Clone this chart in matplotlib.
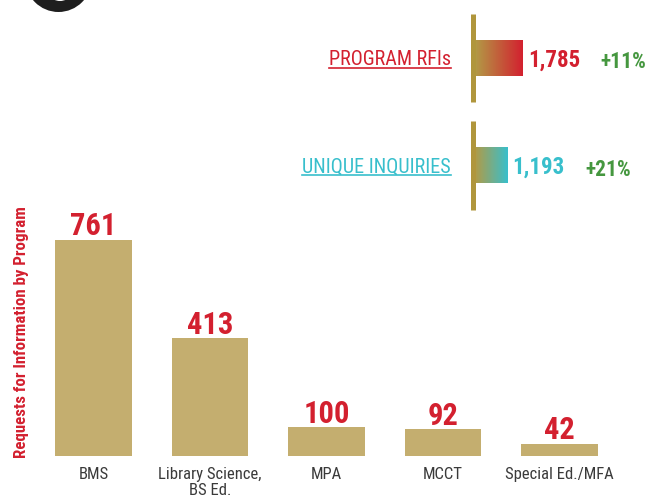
import os
import numpy as np
import matplotlib
matplotlib.use("Agg")
from matplotlib import pyplot as plt
from matplotlib import font_manager
from matplotlib.font_manager import FontProperties
from matplotlib.colors import LinearSegmentedColormap
from matplotlib.patches import Ellipse
from matplotlib.lines import Line2D

# program requests
programs = ["BMS", "Library Science,\nBS Ed.", "MPA", "MCCT", "Special Ed./MFA"]
requests = [761, 413, 100, 92, 42]

# summary rows
summary_labels = ["PROGRAM RFIs", "UNIQUE INQUIRIES"]
summary_values = [1785, 1193]
summary_growth = ["+11%", "+21%"]

W, H = 659, 504
DPI = 100

RED = "#d3202f"
TEAL = "#38bfcc"
GREEN = "#45973f"
GOLD_BAR = "#c4ae6f"
GOLD_LINE = "#b0963c"
GRAY = "#3a3a3a"


def narrow_font(prefs, weight):
    files = [f.fname for f in font_manager.fontManager.ttflist]
    for p in prefs:
        for fn in files:
            if os.path.basename(fn).lower().replace("-", "").startswith(p):
                return FontProperties(fname=fn)
    return FontProperties(family="DejaVu Sans", stretch="condensed", weight=weight)


BOLD = narrow_font(["robotocondensedbold", "liberationsansnarrowbold",
                    "dejavusanscondensedbold"], "bold")
REG = narrow_font(["robotocondensedregular", "liberationsansnarrowregular",
                   "dejavusanscondensed."], "normal")


def fp(base, size):
    f = base.copy()
    f.set_size(size)
    return f


def px(x, y):
    return x / W, 1 - y / H


fig = plt.figure(figsize=(W / DPI, H / DPI), dpi=DPI)

# big letter in the page heading, cut off by the top edge
deco = fig.add_axes([0, 0, 1, 1])
deco.set_xlim(0, W)
deco.set_ylim(H, 0)
deco.axis("off")
deco.add_patch(Ellipse((58.5, -22), 67, 68, color="#1e1e1e", lw=0))
deco.add_patch(Ellipse((60, -22), 36, 46, color="white", lw=0))

# ---- bar chart ----
base_y = 455.5
top_y = 200
px_per_unit = 216 / 761
ax = fig.add_axes([35.25 / W, (H - base_y) / H, 582.5 / W, (base_y - top_y) / H])
x = np.arange(len(programs))
ax.bar(x, requests, width=0.66, color=GOLD_BAR)
ax.set_xlim(-0.5, len(programs) - 0.5)
ax.set_ylim(0, (base_y - top_y) / px_per_unit)
for s in ax.spines.values():
    s.set_visible(False)
ax.set_yticks([])
ax.set_xticks(x)
ax.set_xticklabels(programs, fontproperties=fp(REG, 12), color=GRAY, linespacing=1.05)
ax.tick_params(axis="x", length=0, pad=8.5)
for xi, v in zip(x, requests):
    ax.annotate(str(v), xy=(xi, v), xytext=(0, 3), textcoords="offset points",
                ha="center", va="baseline", fontproperties=fp(BOLD, 22), color=RED)

fig.text(*px(22, 332), "Requests for Information by Program", rotation=90,
         ha="center", va="center", fontproperties=fp(BOLD, 12.2), color=RED)

# ---- summary rows ----
row_px = 107.5
bar_px = 48 / 1785
tl, tr, tt, tb = 475, W, 0, 215
tax = fig.add_axes([tl / W, (H - tb) / H, (tr - tl) / W, (tb - tt) / H])
tax.axis("off")
xmax = (tr - tl) / bar_px
y_top = -58 / row_px
y_bot = (tb - 58) / row_px

grad = np.linspace(0, 1, 256)[None, :]
ends = [RED, TEAL]
label_texts = []
for i, (lab, val, g) in enumerate(zip(summary_labels, summary_values, summary_growth)):
    cmap = LinearSegmentedColormap.from_list("g%d" % i, ["#b29b46", ends[i]])
    tax.imshow(grad, cmap=cmap, extent=(0, val, i + 0.163, i - 0.163),
               aspect="auto", interpolation="bilinear", zorder=2)
    tax.vlines(-2.5 / bar_px, i - 0.41, i + 0.41, color=GOLD_LINE, lw=3.6,
               zorder=3, clip_on=False)
    num = tax.annotate(f"{val:,}", xy=(val, i), xytext=(3.5, -6), textcoords="offset points",
                       ha="left", va="baseline", fontproperties=fp(BOLD, 16.5),
                       color=ends[i])
    tax.annotate(g, xy=(1, i), xycoords=(num, "data"), xytext=(15, -7.5),
                 textcoords="offset points", ha="left", va="baseline",
                 fontproperties=fp(BOLD, 15.5), color=GREEN)
    t = tax.annotate(lab, xy=(0, i), xytext=(-17.5, -5), textcoords="offset points",
                     ha="right", va="baseline", fontproperties=fp(REG, 14.5), color=ends[i])
    label_texts.append(t)

tax.set_xlim(0, xmax)
tax.set_ylim(y_bot, y_top)

# underline the row labels
fig.canvas.draw()
r = fig.canvas.get_renderer()
for t in label_texts:
    bb = t.get_window_extent(r)
    yy = bb.y0 + 1
    fig.add_artist(Line2D([bb.x0, bb.x1], [yy, yy], transform=None,
                          color=t.get_color(), lw=1.2))

fig.savefig("out.png", dpi=DPI)
